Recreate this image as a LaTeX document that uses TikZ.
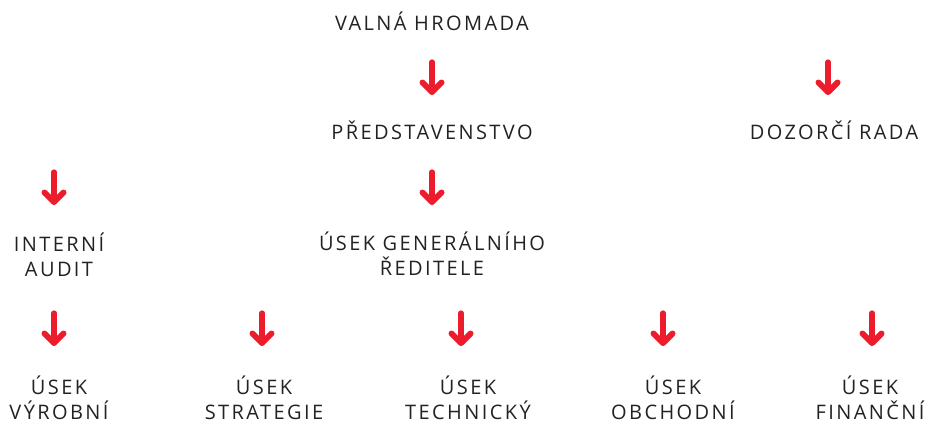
\documentclass[tikz,border=0pt]{standalone}
\usepackage{fontspec}
\setmainfont{Open Sans}[LetterSpace=12]
\definecolor{arrowred}{HTML}{EC1C2D}
\definecolor{txt}{HTML}{222222}
\begin{document}
\begin{tikzpicture}[x=0.75pt,y=-0.75pt,
  lbl/.style={text=txt,font=\fontsize{15}{18.5}\selectfont,align=center,anchor=base,inner sep=0pt},
  shaft/.style={draw=arrowred,line width=3.9pt,line cap=round},
  head/.style={draw=arrowred,line width=4.5pt,line cap=round,line join=round}]
\useasboundingbox (0,0) rectangle (933,422);
% labels (multi-line nodes: base = baseline of last line)
\node[lbl] (vh) at (432,30) {VALNÁ HROMADA};
\node[lbl] (pr) at (432,139) {PŘEDSTAVENSTVO};
\node[lbl] (dr) at (834,139) {DOZORČÍ RADA};
\node[lbl] (ia) at (59,276) {INTERNÍ\\AUDIT};
\node[lbl] (gr) at (432,275) {ÚSEK GENERÁLNÍHO\\ŘEDITELE};
\node[lbl] (uv) at (59,419) {ÚSEK\\VÝROBNÍ};
\node[lbl] (us) at (264,419) {ÚSEK\\STRATEGIE};
\node[lbl] (ut) at (468,419) {ÚSEK\\TECHNICKÝ};
\node[lbl] (uo) at (673,419) {ÚSEK\\OBCHODNÍ};
\node[lbl] (uf) at (870,419) {ÚSEK\\FINANČNÍ};
% arrow positions
\foreach \n/\x/\y in {a1/432/62, a2/828/62, a3/432/172, a4/54/172,
                      b1/54/313, b2/262/313, b3/461/313, b4/663/313, b5/872/313}{
  \coordinate (\n t) at (\x,\y);
  \coordinate (\n b) at (\x,\y+30);
  \draw[shaft] (\n t) -- (\n b);
  \draw[head] ([xshift=-9.5*0.75pt,yshift=9.5*0.75pt]\n b) -- (\n b) -- ([xshift=9.5*0.75pt,yshift=9.5*0.75pt]\n b);
}
\end{tikzpicture}
\end{document}
